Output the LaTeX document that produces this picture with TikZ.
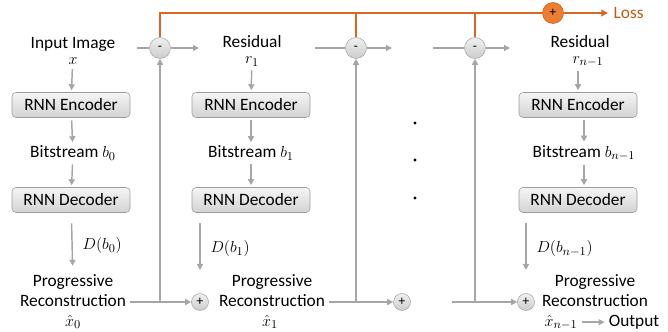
\documentclass[tikz,border=0pt]{standalone}
\usepackage{fontspec}
\setmainfont{Carlito}
\usepackage{tikz}
\usetikzlibrary{arrows.meta,positioning}
\definecolor{linegray}{HTML}{A6A6A6}
\definecolor{boxgray}{HTML}{9C9C9C}
\definecolor{lineorange}{HTML}{D8681F}
\definecolor{opfill}{HTML}{ED7D31}
\definecolor{lossorange}{HTML}{C55A11}

\begin{document}
\begin{tikzpicture}[
  x=0.75pt, y=-0.75pt,
  font=\fontsize{13}{14}\selectfont,
  txt/.style={inner sep=1pt, align=center},
  rnnbox/.style={draw=boxgray, rounded corners=3pt, top color=gray!8, bottom color=gray!35, minimum width=88.5pt, minimum height=18.75pt, inner sep=0pt},
  op/.style={circle, draw=linegray, top color=gray!12, bottom color=gray!40, minimum size=15.75pt, inner sep=0pt, font=\fontsize{10}{10}\selectfont},
  addop/.style={op, minimum size=12.75pt},
  lossop/.style={circle, draw=lossorange, fill=opfill, minimum size=15.75pt, inner sep=0pt, font=\fontsize{10}{10}\selectfont},
  gline/.style={draw=linegray, line width=1.1pt},
  arrow/.style={gline, -{Triangle[length=4.5pt,width=4.5pt]}},
  varrow/.style={arrow, shorten <=2pt, shorten >=1.5pt},
  oline/.style={draw=lineorange, line width=1.3pt},
  oarrow/.style={oline, -{Triangle[length=5pt,width=5pt]}}
]
\useasboundingbox (0,0) rectangle (668,332);

\node[txt] (in1) at (73,51) {Input Image\\[-2pt]$x$};
\node[rnnbox] (enc1) at (71,105) {RNN Encoder};
\node[txt] (bit1) at (73,153) {Bitstream $b_0$};
\node[rnnbox] (dec1) at (71,200) {RNN Decoder};
\node[txt, anchor=base] (recon1) at (73,306) {Reconstruction};
\node[txt, anchor=base] (prog1) at (73,286) {Progressive};
\node[txt, anchor=base] (xh1) at (73,326) {$\hat{x}_0$};

\node[txt] (res2) at (252,51) {Residual\\[-2pt]$r_1$};
\node[rnnbox] (enc2) at (251,105) {RNN Encoder};
\node[txt] (bit2) at (251,153) {Bitstream $b_1$};
\node[rnnbox] (dec2) at (251,200) {RNN Decoder};
\node[txt, anchor=base] (recon2) at (272,306) {Reconstruction};
\node[txt, anchor=base] (prog2) at (272,286) {Progressive};
\node[txt, anchor=base] (xh2) at (270,326) {$\hat{x}_1$};

\node[txt] (res3) at (580,51) {Residual\\[-2pt]\hspace*{12pt}$r_{n-1}$};
\node[rnnbox] (enc3) at (578,105) {RNN Encoder};
\node[txt] (bit3) at (584,153) {Bitstream $b_{n-1}$};
\node[rnnbox] (dec3) at (578,200) {RNN Decoder};
\node[txt, anchor=base] (recon3) at (595,306) {Reconstruction};
\node[txt, anchor=base] (prog3) at (595,286) {Progressive};
\node[txt, anchor=base] (xh3) at (561,326) {$\hat{x}_{n-1}$};
\node[txt, anchor=base] (out3) at (634,326) {Output};

\node[op] (minus1) at (160,48) {-};
\node[op] (minus2) at (356,48) {-};
\node[op] (minus3) at (475,48) {-};
\node[addop] (plus1) at (200,302) {+};
\node[addop] (plus2) at (402,302) {+};
\node[addop] (plus3) at (526,302) {+};
\node[lossop] (lossplus) at (553,13) {+};
\node[txt, text=lossorange, anchor=west] (loss) at (612,13) {Loss};

\coordinate (m1in) at (137,48);
\coordinate (m1out) at (199,48);
\coordinate (m2in) at (315,48);
\coordinate (m2out) at (392,48);
\coordinate (m3in) at (433,48);
\coordinate (m3out) at (510,48);
\coordinate (p3in) at (452,302);

\draw[varrow] (in1) -- (enc1);
\draw[varrow] (enc1) -- (bit1);
\draw[varrow] (bit1) -- (dec1);
\draw[varrow, shorten <=8pt, shorten >=5pt] (dec1) -- node[pos=0.55, right=4pt] {$D(b_0)$} (prog1);

\draw[varrow] (res2) -- (enc2);
\draw[varrow] (enc2) -- (bit2);
\draw[varrow] (bit2) -- (dec2);
\draw[varrow, shorten <=8pt, shorten >=17.5pt] (plus1 |- dec2.south) -- node[pos=0.45, right=4pt] {$D(b_1)$} (plus1);

\draw[varrow] (res3.south -| enc3) -- (enc3);
\draw[varrow] (enc3.south -| bit3) -- (bit3);
\draw[varrow] (bit3) -- (dec3.north -| bit3);
\draw[varrow, shorten <=8pt, shorten >=17.5pt] (plus3 |- dec3.south) -- node[pos=0.45, right=4pt] {$D(b_{n-1})$} (plus3);

\draw[gline] (m1in) -- (minus1);
\draw[arrow] (minus1) -- (m1out);
\draw[gline] (m2in) -- (minus2);
\draw[arrow] (minus2) -- (m2out);
\draw[gline] (m3in) -- (minus3);
\draw[arrow] (minus3) -- (m3out);

\draw[arrow, shorten <=1.5pt] (recon1.east |- plus1) -- (plus1);
\draw[arrow] (minus1 |- plus1) -- (minus1);
\draw[arrow, shorten <=1.5pt] (recon2.east |- plus2) -- (plus2);
\draw[arrow] (minus2 |- plus2) -- (minus2);
\draw[arrow] (p3in) -- (plus3);
\draw[arrow] (minus3 |- plus3) -- (minus3);
\draw[arrow, shorten <=2pt, shorten >=2pt] (xh3.east) -- (out3.west |- xh3.east);

\draw[oline] (minus1) |- (lossplus);
\draw[oline] (minus2) -- (minus2 |- lossplus);
\draw[oline] (minus3) -- (minus3 |- lossplus);
\draw[oarrow, shorten >=3pt] (lossplus) -- (loss);

\fill (415,123) circle (1.3pt);
\fill (415,160) circle (1.3pt);
\fill (415,198) circle (1.3pt);
\end{tikzpicture}
\end{document}
